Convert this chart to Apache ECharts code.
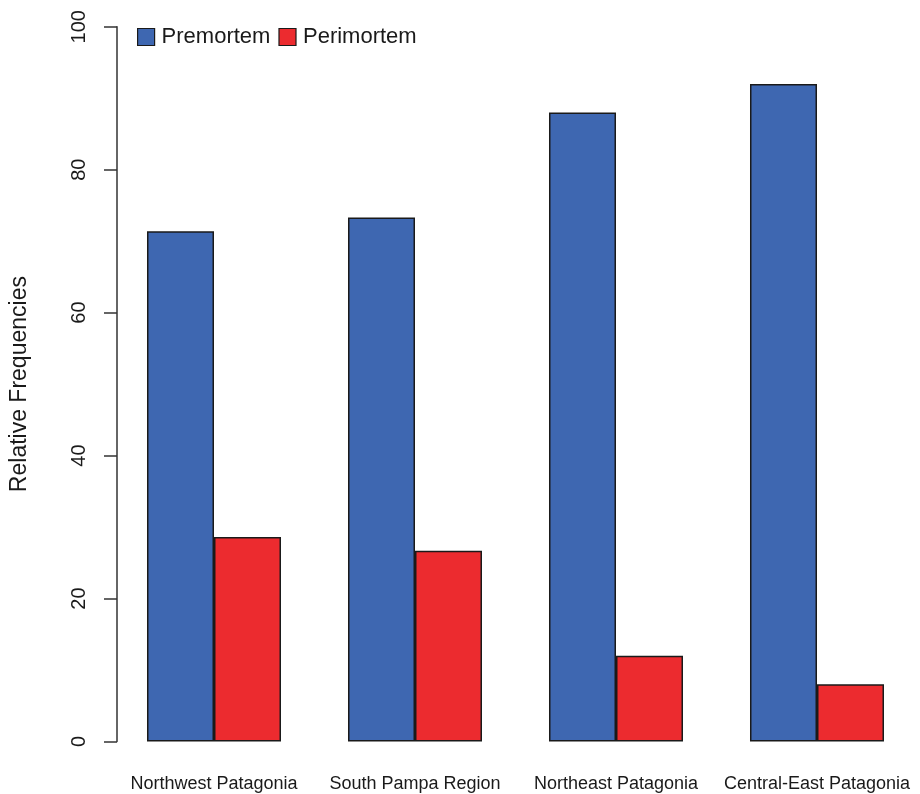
<!DOCTYPE html>
<html>
<head>
<meta charset="utf-8">
<script src="https://cdn.jsdelivr.net/npm/echarts@6/dist/echarts.min.js"></script>
<style>
  html, body { margin: 0; padding: 0; background: #fff; }
  #chart { width: 920px; height: 794px; }
</style>
</head>
<body>
<div id="chart"></div>
<script>
// Regions and relative frequencies (%) of premortem vs perimortem lesions
const regions = ['Northwest Patagonia', 'South Pampa Region', 'Northeast Patagonia', 'Central-East Patagonia'];
const premortem = [71.4, 73.3, 88.0, 92.0];
const perimortem = [28.6, 26.7, 12.0, 8.0];
const seriesNames = ['Premortem', 'Perimortem'];
const yTicks = [0, 20, 40, 60, 80, 100];

const FONT = '"Liberation Sans", Arial, Helvetica, sans-serif';
const BLUE = '#3e67b1';
const RED = '#ec2b2f';
const border = { borderColor: '#1a1a1a', borderWidth: 1.5 };

const chart = echarts.init(document.getElementById('chart'), null, { renderer: 'canvas' });

chart.setOption({
  backgroundColor: '#ffffff',
  animation: false,
  textStyle: { fontFamily: FONT },
  legend: {
    left: 137,
    top: 26,
    padding: 0,
    itemWidth: 17,
    itemHeight: 17,
    itemGap: 8,
    icon: 'rect',
    itemStyle: { borderColor: '#1a1a1a', borderWidth: 1.2 },
    textStyle: { fontFamily: FONT, fontSize: 22, color: '#1a1a1a', padding: [0, 0, 0, 2] },
    data: seriesNames
  },
  grid: {
    left: 112.5,
    width: 805,
    top: 26.7,
    bottom: 52.5,
    containLabel: false
  },
  xAxis: {
    type: 'category',
    data: regions,
    axisLine: { show: false },
    axisTick: { show: false },
    axisLabel: {
      interval: 0,
      margin: 34,
      fontFamily: FONT,
      fontSize: 18,
      color: '#1a1a1a'
    },
    splitLine: { show: false }
  },
  yAxis: {
    type: 'value',
    min: yTicks[0],
    max: yTicks[yTicks.length - 1],
    interval: 20,
    offset: -3.5,
    name: 'Relative Frequencies',
    nameLocation: 'middle',
    nameRotate: 90,
    nameGap: 86,
    nameTextStyle: { fontFamily: FONT, fontSize: 23, color: '#1a1a1a' },
    axisLine: { show: true, lineStyle: { color: '#333', width: 1.5 } },
    axisTick: { show: true, inside: false, length: 13, lineStyle: { color: '#333', width: 1.5 } },
    axisLabel: {
      rotate: 90,
      margin: 28,
      fontFamily: FONT,
      fontSize: 20,
      color: '#1a1a1a'
    },
    splitLine: { show: false }
  },
  series: [
    {
      name: seriesNames[0],
      type: 'bar',
      data: premortem,
      barGap: '0%',
      barCategoryGap: '33.33%',
      itemStyle: Object.assign({ color: BLUE }, border)
    },
    {
      name: seriesNames[1],
      type: 'bar',
      data: perimortem,
      barGap: '0%',
      barCategoryGap: '33.33%',
      itemStyle: Object.assign({ color: RED }, border)
    }
  ]
});
</script>
</body>
</html>
